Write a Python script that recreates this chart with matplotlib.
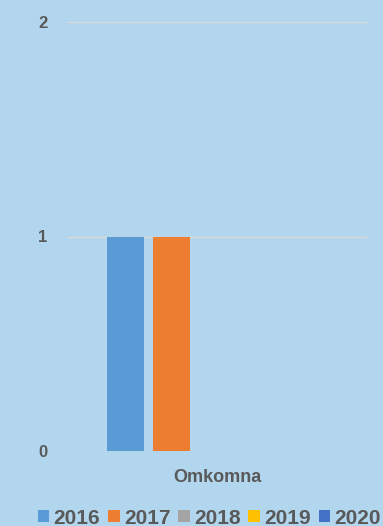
import matplotlib
matplotlib.use("Agg")
import matplotlib.pyplot as plt
import numpy as np

categories = ["Omkomna"]
years = ["2016", "2017", "2018", "2019", "2020"]
values = [1, 1, 0, 0, 0]
colors = ["#5B9BD5", "#ED7D31", "#A5A5A5", "#FFC000", "#4472C4"]
yticks = [0, 1, 2]

bg = "#B2D6ED"
tc = "#595959"
plt.rcParams['font.family'] = ['Liberation Sans', 'DejaVu Sans']

fig = plt.figure(figsize=(3.83, 5.26), dpi=100, facecolor=bg)
W, H = 383, 526
ax = fig.add_axes([67 / W, 1 - 451 / H, 300 / W, (451 - 22) / H])
ax.set_facecolor(bg)

step = 46 / 300
width = 37 / 300
for i, (yr, v, c) in enumerate(zip(years, values, colors)):
    ax.bar(0 + (i - 2) * step, v, width=width, color=c, label=yr, zorder=3)

ax.set_xlim(-0.5, 0.5)
ax.set_ylim(0, 2)
ax.set_yticks(yticks)
ax.set_yticklabels([str(t) for t in yticks], fontsize=12, fontweight='bold', color=tc)
ax.set_xticks([0])
ax.set_xticklabels(categories, fontsize=13, fontweight='bold', color=tc)
ax.tick_params(axis='both', length=0)
ax.tick_params(axis='y', pad=14)
ax.tick_params(axis='x', pad=13)
ax.grid(axis='y', color='#D9D9D9', linewidth=1, zorder=0)
for s in ax.spines.values():
    s.set_visible(False)

leg = fig.legend(loc='center left', bbox_to_anchor=(38 / W, 1 - 518 / H), ncol=5,
                 frameon=False, borderpad=0, borderaxespad=0,
                 handlelength=0.55, handleheight=0.55,
                 handletextpad=0.2, columnspacing=0.38,
                 prop={'size': 15, 'weight': 'bold'})
for t in leg.get_texts():
    t.set_color(tc)

fig.savefig("out.png", dpi=100, facecolor=bg)
